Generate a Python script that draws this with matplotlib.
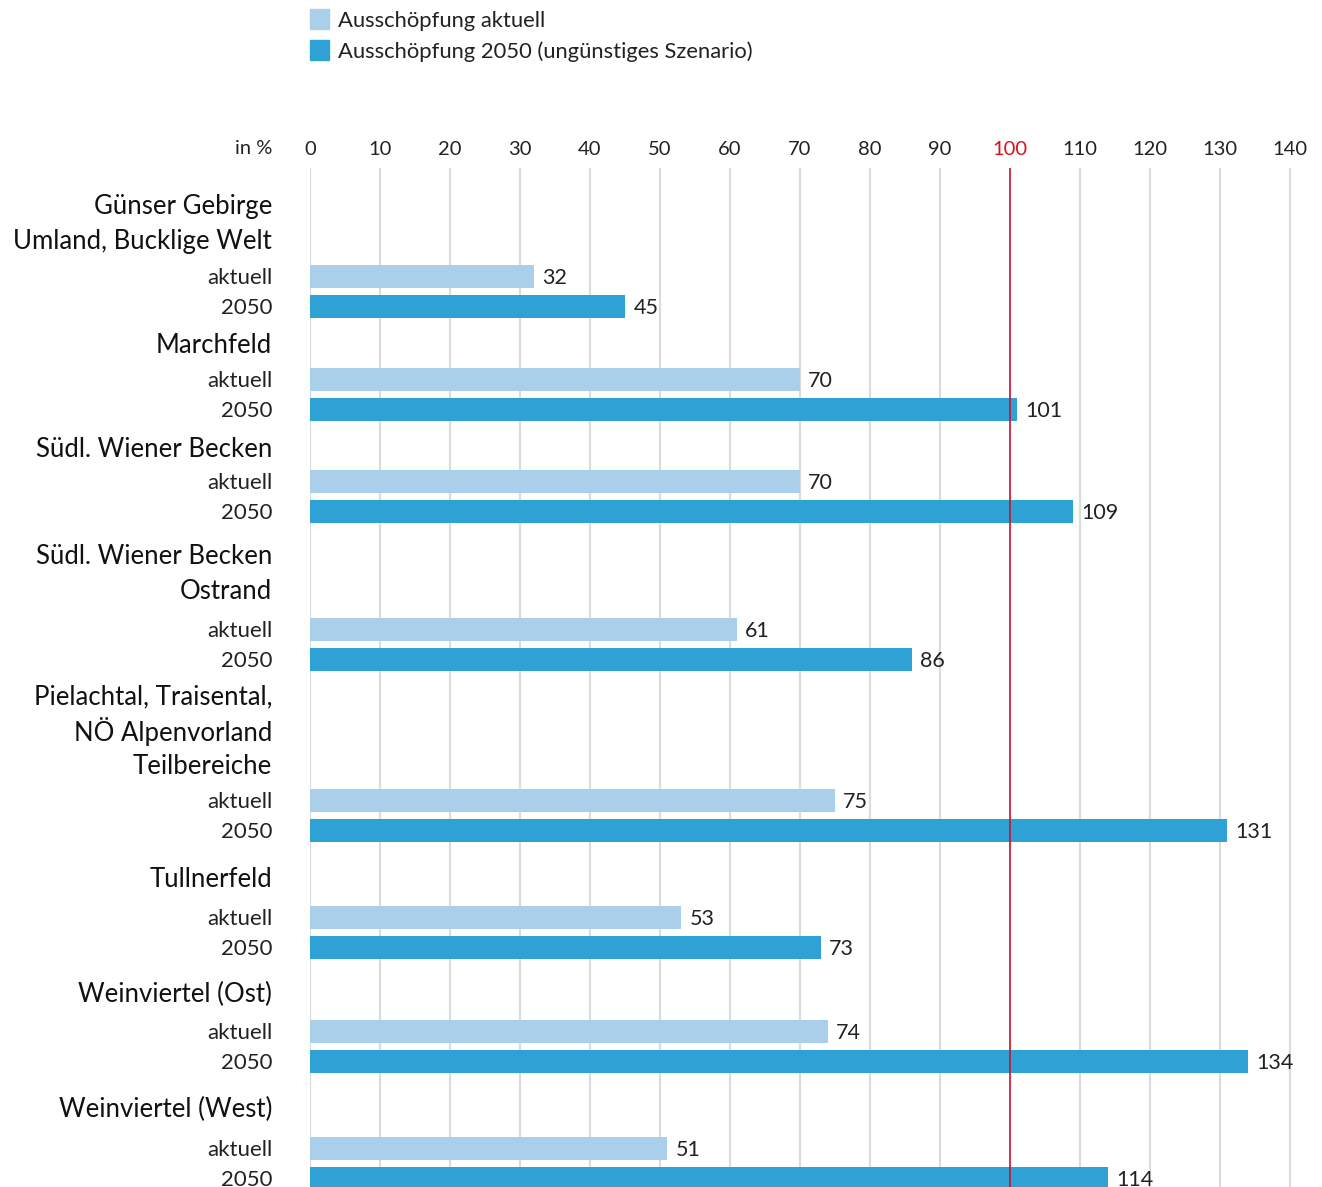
import matplotlib.pyplot as plt
from matplotlib.patches import Rectangle
from matplotlib.transforms import blended_transform_factory, offset_copy

plt.rcParams['font.family'] = ['Lato', 'DejaVu Sans']

groups = [
    ["Günser Gebirge", "Umland, Bucklige Welt"],
    ["Marchfeld"],
    ["Südl. Wiener Becken"],
    ["Südl. Wiener Becken", "Ostrand"],
    ["Pielachtal, Traisental,", "NÖ Alpenvorland", "Teilbereiche"],
    ["Tullnerfeld"],
    ["Weinviertel (Ost)"],
    ["Weinviertel (West)"],
]
aktuell = [32, 70, 70, 61, 75, 53, 74, 51]
szen2050 = [45, 101, 109, 86, 131, 73, 134, 114]
ticks = list(range(0, 141, 10))
legend_labels = ["Ausschöpfung aktuell", "Ausschöpfung 2050 (ungünstiges Szenario)"]

# layout (pixel rows from the top of the image)
row_y = [276, 379, 481, 629, 800, 917, 1031, 1148]
head_gap = [37, 36, 34, 40, 36, 40, 39, 41]

LIGHT = "#a9cfeb"
DARK = "#2ea2d4"
RED = "#d9101e"
TXT = "#222222"

W, H = 1322, 1187
PX = 7.0  # pixels per percent
fig = plt.figure(figsize=(W / 100, H / 100), dpi=100)
ax = fig.add_axes([310 / W, 0, (W - 310) / W, (H - 168) / H])
ax.set_xlim(0, (W - 310) / PX)
ax.set_ylim(H, 168)  # y in pixel units from the top

akt_pos = row_y
pos2050 = [r + 30 for r in row_y]
header_pos = []
for lines, r, g in zip(groups, row_y, head_gap):
    last = r - g
    header_pos.append([last - (len(lines) - 1 - i) * 34.5 for i in range(len(lines))])

# grid
for t in ticks:
    if t != 100:
        ax.axvline(t, color="#dcdcdc", lw=1.6, zorder=0)

ax.barh(akt_pos, aktuell, height=23, color=LIGHT, zorder=2)
ax.barh(pos2050, szen2050, height=23, color=DARK, zorder=2)
ax.axvline(100, color="#c8102e", lw=1.2, zorder=3)

lab_tr = offset_copy(ax.transData, fig=fig, x=6, y=-1.5, units="points")
for ys, vals in ((akt_pos, aktuell), (pos2050, szen2050)):
    for yy, v in zip(ys, vals):
        ax.text(v, yy, str(v), transform=lab_tr, ha="left", va="center",
                fontsize=15.5, color=TXT, clip_on=True, zorder=4)

# tick labels on top
ax.xaxis.tick_top()
ax.set_xticks(ticks)
ax.set_xticklabels([str(t) for t in ticks], fontsize=14.5, color=TXT)
ax.tick_params(axis="x", length=0, pad=7)
ax.get_xticklabels()[ticks.index(100)].set_color(RED)
ax.set_yticks([])
for s in ax.spines.values():
    s.set_visible(False)

tr = offset_copy(blended_transform_factory(fig.transFigure, ax.transData),
                 fig=fig, x=0, y=-1.5, units="points")
lx = 272 / W
for ys, lines in zip(header_pos, groups):
    for yy, line in zip(ys, lines):
        ax.text(lx, yy, line, transform=tr, ha="right", va="center",
                fontsize=18.5, color="#111111", clip_on=False)
for a, b in zip(akt_pos, pos2050):
    ax.text(lx, a, "aktuell", transform=tr, ha="right", va="center",
            fontsize=16, color=TXT, clip_on=False)
    ax.text(lx, b, "2050", transform=tr, ha="right", va="center",
            fontsize=16, color=TXT, clip_on=False)

fig.text(lx, 1 - 148 / H, "in %", ha="right", va="center", fontsize=14.5, color=TXT)

# legend
for i, (lab, col) in enumerate(zip(legend_labels, [LIGHT, DARK])):
    yc = 19 + i * 31
    fig.patches.append(Rectangle((310 / W, 1 - (yc + 9.5) / H), 19 / W, 19 / H,
                                 transform=fig.transFigure, color=col))
    fig.text(338 / W, 1 - (yc + 2) / H, lab, ha="left", va="center",
             fontsize=15.8, color=TXT)

fig.savefig("out.png", dpi=100)
